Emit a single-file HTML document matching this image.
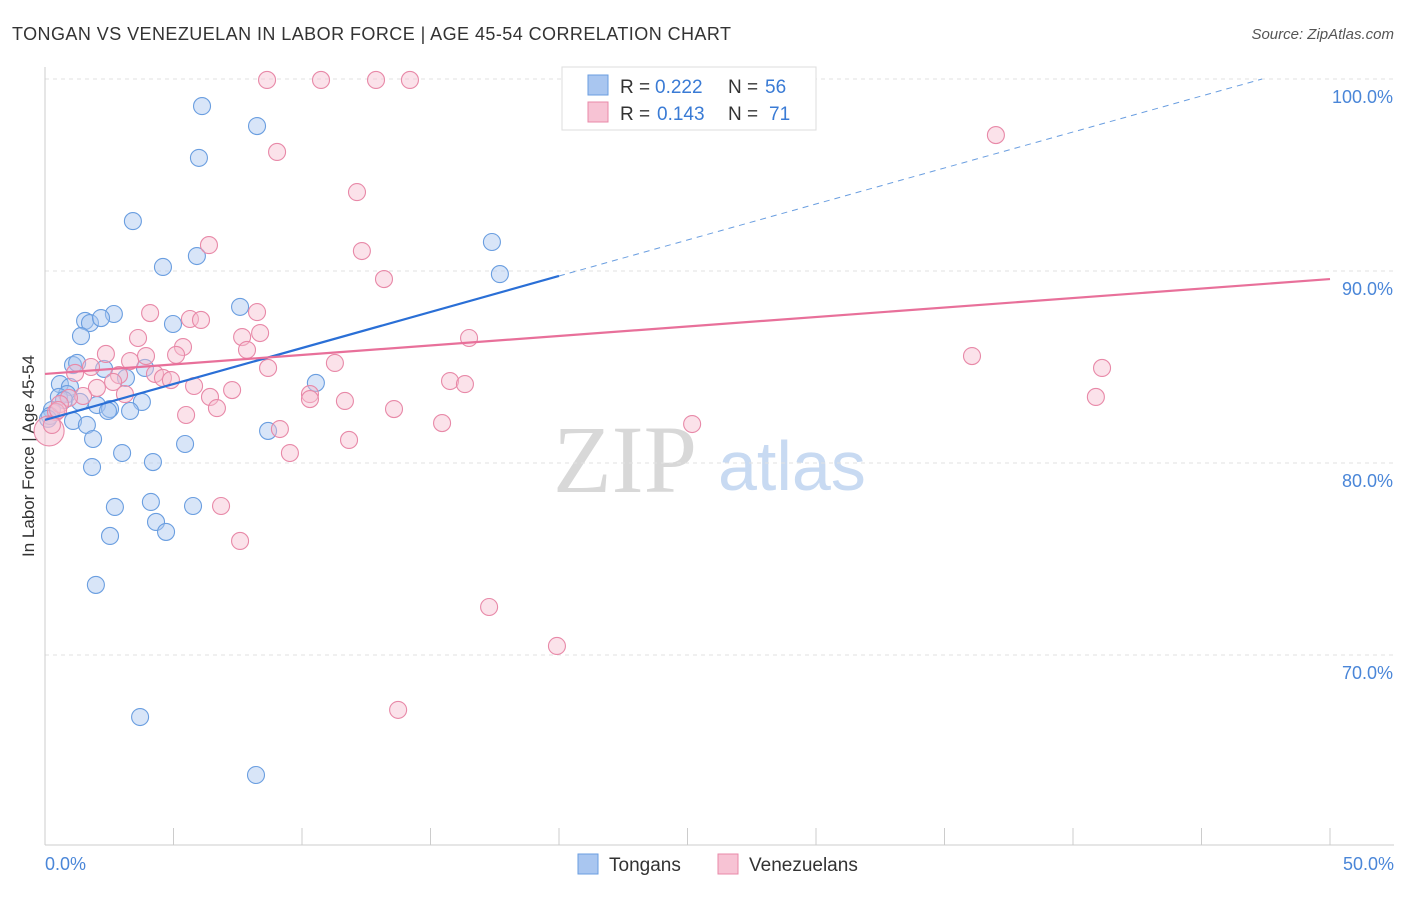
<!DOCTYPE html>
<html><head><meta charset="utf-8"><style>
body{margin:0;background:#fff;font-family:"Liberation Sans",sans-serif}
</style></head><body>
<svg id="c" width="1406" height="892" viewBox="0 0 1406 892" xmlns="http://www.w3.org/2000/svg">
<text x="12" y="40" font-size="18" fill="#333" textLength="719">TONGAN VS VENEZUELAN IN LABOR FORCE | AGE 45-54 CORRELATION CHART</text>
<text x="1394" y="39" font-size="15" fill="#555" font-style="italic" text-anchor="end">Source: ZipAtlas.com</text>
<text x="34" y="456" font-size="17" fill="#333" transform="rotate(-90 34 456)" text-anchor="middle">In Labor Force | Age 45-54</text>
<g><text x="553" y="492" font-size="96" fill="#d8d8d8" font-family="Liberation Serif,serif">ZIP</text><text x="718" y="490" font-size="70" fill="#c8daf2">atlas</text></g>
<g id="grid"></g><g id="axes"></g><g id="pts"></g><g id="lines"></g>
<g>
<rect x="562" y="67" width="254" height="63" fill="#fff" stroke="#ddd"/>
<rect x="588" y="75" width="20" height="20" fill="#a9c6f0" stroke="#6a9ee0"/>
<rect x="588" y="102" width="20" height="20" fill="#f7c3d4" stroke="#e889a8"/>
<text x="620" y="93" font-size="19" fill="#333">R =</text><text x="655" y="93" font-size="19" fill="#3a7bd5">0.222</text>
<text x="728" y="93" font-size="19" fill="#333">N =</text><text x="765" y="93" font-size="19" fill="#3a7bd5">56</text>
<text x="620" y="120" font-size="19" fill="#333">R =</text><text x="657" y="120" font-size="19" fill="#3a7bd5">0.143</text>
<text x="728" y="120" font-size="19" fill="#333">N =</text><text x="769" y="120" font-size="19" fill="#3a7bd5">71</text>
</g>
<g>
<rect x="578" y="854" width="20" height="20" fill="#a9c6f0" stroke="#6a9ee0"/>
<text x="609" y="871" font-size="19" fill="#333">Tongans</text>
<rect x="718" y="854" width="20" height="20" fill="#f7c3d4" stroke="#e889a8"/>
<text x="749" y="871" font-size="19" fill="#333">Venezuelans</text>
</g>
</svg>
<script>
const yTicks=[70,80,90,100];
const xTickLabels=["0.0%","50.0%"];
const blueX=[6.11,8.25,5.99,3.42,4.59,5.91,17.39,17.70,7.59,2.68,1.56,1.75,2.18,4.98,1.40,1.09,1.25,2.30,3.89,3.15,10.54,0.58,0.97,0.86,0.54,0.74,1.36,2.02,2.53,3.77,2.45,3.31,0.27,0.19,1.09,1.63,1.87,8.68,5.45,3.00,4.20,1.83,4.12,5.76,2.72,4.32,4.71,2.53,1.98,3.70,8.21,0.12];
const blueY=[98.59,97.55,95.89,92.60,90.21,90.78,91.51,89.84,88.13,87.76,87.40,87.29,87.55,87.24,86.61,85.10,85.21,84.90,84.95,84.43,84.17,84.11,83.96,83.59,83.44,83.28,83.18,83.02,82.81,83.18,82.71,82.71,82.76,82.45,82.19,81.98,81.25,81.67,80.99,80.52,80.05,79.79,77.97,77.76,77.71,76.93,76.41,76.20,73.65,66.77,63.75,82.30];
const pinkX=[8.64,10.74,12.88,14.20,37.00,9.03,12.14,6.38,12.33,13.19,4.09,5.64,6.07,8.25,8.37,7.67,3.62,16.50,5.37,2.37,3.93,5.10,7.86,3.31,1.79,11.28,36.07,41.13,1.17,4.28,2.88,4.59,4.90,15.76,16.34,5.80,2.65,2.02,7.28,8.68,3.11,10.31,10.31,6.42,40.89,1.48,11.67,0.93,0.58,0.43,13.58,6.69,5.49,15.45,9.14,25.18,11.83,9.53,6.85,7.59,17.28,19.92,13.74,0.16,0.27,0.51];
const pinkY=[99.95,99.95,99.95,99.95,97.08,96.20,94.11,91.35,91.04,89.58,87.81,87.50,87.45,87.86,86.77,86.56,86.51,86.51,86.04,85.68,85.57,85.63,85.89,85.31,85.00,85.21,85.57,84.95,84.69,84.64,84.58,84.43,84.32,84.27,84.11,84.01,84.22,83.91,83.80,84.95,83.59,83.59,83.33,83.44,83.44,83.49,83.23,83.39,83.07,82.66,82.81,82.86,82.50,82.08,81.77,82.03,81.20,80.52,77.76,75.94,72.50,70.47,67.14,81.67,81.98,82.76];
const blueLine=[82.24,0.375];
const pinkLine=[84.64,0.0988];
const NS="http://www.w3.org/2000/svg";
const sx=v=>45+v*25.7, sy=v=>79+(100-v)*19.2;
function mk(t,a,p){const e=document.createElementNS(NS,t);for(const k in a)e.setAttribute(k,a[k]);p.appendChild(e);return e;}
const grid=document.getElementById('grid'),axes=document.getElementById('axes'),pts=document.getElementById('pts'),lines=document.getElementById('lines');
yTicks.forEach(v=>{
 const l=mk('line',{x1:45,x2:1394,y1:sy(v),y2:sy(v),stroke:'#e2e2e2','stroke-dasharray':'4 4'},grid);
 
 
 const t=mk('text',{x:1393,y:sy(v)+24,'font-size':18,fill:'#4a86d8','text-anchor':'end'},axes);
 t.textContent=v.toFixed(1)+'%';
 
 
});
mk('line',{x1:45,x2:45,y1:67,y2:845,stroke:'#ccc'},axes);
mk('line',{x1:45,x2:1394,y1:845,y2:845,stroke:'#ccc'},axes);
for(let i=0;i<=10;i++){mk('line',{x1:sx(i*5),x2:sx(i*5),y1:828,y2:845,stroke:'#ccc'},axes);}
[[0,'start',45],[50,'end',1394]].forEach((d,i)=>{
 const t=mk('text',{x:d[2],y:870,'font-size':18,fill:'#4a86d8','text-anchor':d[1]},axes);
 t.textContent=xTickLabels[i];
 
 
});
function dots(X,Y,fill,stroke,name,bigOk){X.forEach((x,i)=>{
 const big=bigOk&&(x<0.2&&Math.abs(Y[i]-81.7)<0.2);
 const c=mk('circle',{cx:sx(x),cy:sy(Y[i]),r:big?15:8.5,fill:fill,'fill-opacity':0.45,stroke:stroke,'stroke-width':1.1},pts);
 
 
});}
dots(blueX,blueY,'#a9c6f0','#6a9ee0','tongan-point',false);
dots(pinkX,pinkY,'#f7bed0','#e889a8','venezuelan-point',true);
const bl=mk('line',{x1:sx(0),y1:sy(blueLine[0]),x2:sx(20),y2:sy(blueLine[0]+20*blueLine[1]),stroke:'#2a6fd6','stroke-width':2.2},lines);


const xe=(100-blueLine[0])/blueLine[1];
const bd=mk('line',{x1:sx(20),y1:sy(blueLine[0]+20*blueLine[1]),x2:sx(xe),y2:sy(100),stroke:'#6a9ee0','stroke-width':1,'stroke-dasharray':'6 5'},lines);


const pl=mk('line',{x1:sx(0),y1:sy(pinkLine[0]),x2:sx(50),y2:sy(pinkLine[0]+50*pinkLine[1]),stroke:'#e8709a','stroke-width':2.2},lines);


</script>
</body></html>
